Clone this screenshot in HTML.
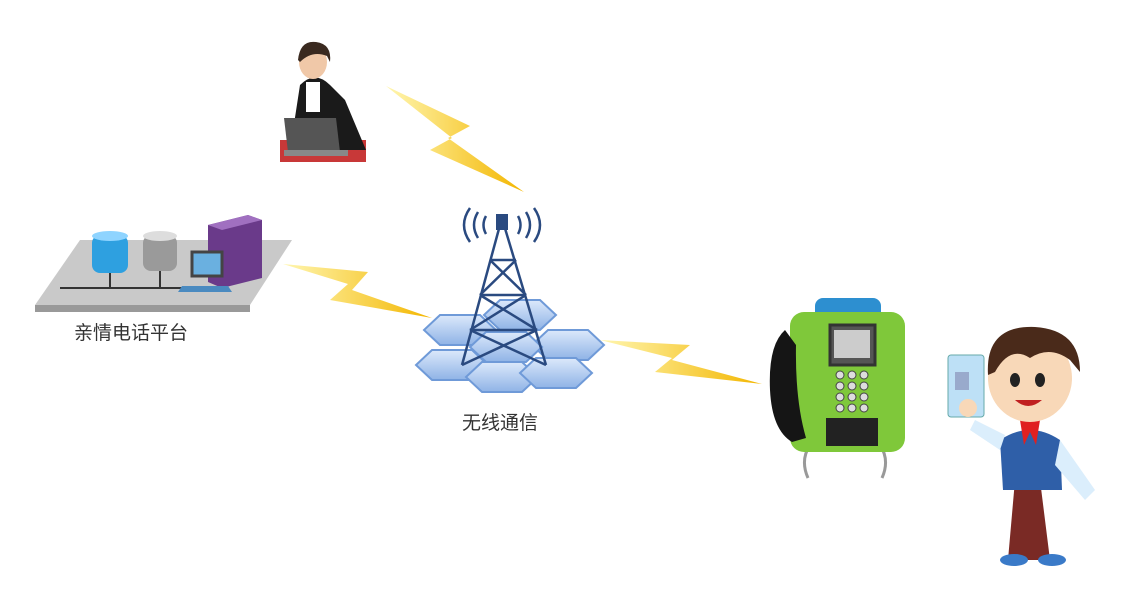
<!DOCTYPE html>
<html><head><meta charset="utf-8"><style>
body{margin:0;background:#fff;width:1146px;height:596px;overflow:hidden;font-family:"Liberation Sans","Noto Sans CJK SC",sans-serif}
.t{position:absolute;font-size:19px;color:#333}
</style></head><body>
<svg width="1146" height="596" style="position:absolute;left:0;top:0">
<defs>
<linearGradient id="ly" x1="0" x2="1"><stop offset="0" stop-color="#fff6b0"/><stop offset="1" stop-color="#f3b600"/></linearGradient>
<linearGradient id="hx" x1="0" y1="0" x2="0" y2="1"><stop offset="0" stop-color="#dce9fb"/><stop offset="1" stop-color="#8fb3e6"/></linearGradient>
</defs>
<!-- lightning bolts -->
<polygon points="386,86 470,126 448,138 524,192 430,150 452,138" fill="url(#ly)"/>
<polygon points="283,264 368,272 352,290 432,318 330,300 348,284" fill="url(#ly)"/>
<polygon points="600,340 690,345 672,360 762,384 655,372 672,358" fill="url(#ly)"/>
<!-- woman -->
<rect x="280" y="140" width="86" height="22" fill="#c83838"/>
<path d="M290 150 L300 85 Q315 70 330 85 L345 100 L366 150 Z" fill="#1a1a1a"/>
<ellipse cx="313" cy="62" rx="14" ry="17" fill="#f0c8a8"/>
<path d="M298 60 Q300 40 316 42 Q332 44 330 62 L327 56 Q312 50 300 62 Z" fill="#3a2a20"/>
<rect x="306" y="82" width="14" height="30" fill="#fff"/>
<polygon points="284,118 336,118 340,152 288,152" fill="#555"/>
<rect x="284" y="150" width="64" height="6" fill="#888"/>
<!-- server platform -->
<polygon points="80,240 292,240 250,305 35,305" fill="#c9c9c9"/>
<polygon points="35,305 250,305 250,312 35,312" fill="#999"/>
<line x1="60" y1="288" x2="200" y2="288" stroke="#333" stroke-width="2"/>
<line x1="110" y1="270" x2="110" y2="288" stroke="#333" stroke-width="2"/>
<line x1="160" y1="270" x2="160" y2="288" stroke="#333" stroke-width="2"/>
<rect x="92" y="235" width="36" height="38" rx="8" fill="#2ea0e0"/>
<ellipse cx="110" cy="236" rx="18" ry="5" fill="#8fd4ff"/>
<rect x="143" y="235" width="34" height="36" rx="8" fill="#9a9a9a"/>
<ellipse cx="160" cy="236" rx="17" ry="5" fill="#ddd"/>
<polygon points="208,225 248,215 262,220 262,278 222,288 208,282" fill="#6a3a8a"/>
<polygon points="208,225 248,215 262,220 222,230" fill="#a070c0"/>
<rect x="192" y="252" width="30" height="24" fill="#6ab0e0" stroke="#444" stroke-width="3"/>
<polygon points="182,286 228,286 232,292 178,292" fill="#4a8ac0"/>
<!-- hex tiles -->
<g fill="url(#hx)" stroke="#6f9ad8" stroke-width="2">
<polygon points="440,315 480,315 496,330 480,345 440,345 424,330"/>
<polygon points="500,300 540,300 556,315 540,330 500,330 484,315"/>
<polygon points="548,330 588,330 604,345 588,360 548,360 532,345"/>
<polygon points="432,350 472,350 488,365 472,380 432,380 416,365"/>
<polygon points="482,362 522,362 538,377 522,392 482,392 466,377"/>
<polygon points="536,358 576,358 592,373 576,388 536,388 520,373"/>
<polygon points="486,332 526,332 542,347 526,362 486,362 470,347"/>
</g>
<!-- tower -->
<g stroke="#2a4a80" stroke-width="2.5" fill="none">
<line x1="500" y1="225" x2="462" y2="365"/><line x1="504" y1="225" x2="546" y2="365"/>
<line x1="490" y1="260" x2="516" y2="260"/><line x1="480" y1="295" x2="526" y2="295"/><line x1="470" y1="330" x2="537" y2="330"/>
<line x1="490" y1="260" x2="526" y2="295"/><line x1="516" y1="260" x2="480" y2="295"/>
<line x1="480" y1="295" x2="537" y2="330"/><line x1="526" y1="295" x2="470" y2="330"/>
<line x1="470" y1="330" x2="546" y2="365"/><line x1="537" y1="330" x2="462" y2="365"/>
<path d="M478 212 Q470 225 478 238 M486 216 Q481 225 486 234 M526 212 Q534 225 526 238 M518 216 Q523 225 518 234"/>
<path d="M470 208 Q458 225 470 242 M534 208 Q546 225 534 242"/>
</g>
<rect x="496" y="214" width="12" height="16" fill="#2a4a80"/>
<!-- phone -->
<path d="M810 445 Q800 460 808 478 M880 445 Q890 460 882 478" stroke="#999" stroke-width="3" fill="none"/>
<rect x="815" y="298" width="66" height="22" rx="8" fill="#2d8fd0"/>
<rect x="790" y="312" width="115" height="140" rx="14" fill="#7fc83a"/>
<rect x="830" y="325" width="45" height="40" fill="#555" stroke="#333" stroke-width="3"/>
<rect x="834" y="330" width="36" height="28" fill="#ccc"/>
<g fill="#ddd" stroke="#444">
<circle cx="840" cy="375" r="4"/><circle cx="852" cy="375" r="4"/><circle cx="864" cy="375" r="4"/>
<circle cx="840" cy="386" r="4"/><circle cx="852" cy="386" r="4"/><circle cx="864" cy="386" r="4"/>
<circle cx="840" cy="397" r="4"/><circle cx="852" cy="397" r="4"/><circle cx="864" cy="397" r="4"/>
<circle cx="840" cy="408" r="4"/><circle cx="852" cy="408" r="4"/><circle cx="864" cy="408" r="4"/>
</g>
<rect x="826" y="418" width="52" height="28" fill="#222"/>
<path d="M785 330 Q768 345 770 390 Q772 430 792 442 L806 438 Q795 400 796 345 Z" fill="#151515"/>
<!-- boy -->
<rect x="948" y="355" width="36" height="62" rx="3" fill="#bde0f6" stroke="#6aa" />
<rect x="955" y="372" width="14" height="18" fill="#9ac"/>
<path d="M1008 560 L1015 480 L1040 480 L1050 560 Z" fill="#7a2a25"/>
<ellipse cx="1014" cy="560" rx="14" ry="6" fill="#3a7ac8"/>
<ellipse cx="1052" cy="560" rx="14" ry="6" fill="#3a7ac8"/>
<path d="M1000 440 Q1030 420 1060 440 L1062 490 L1003 490 Z" fill="#2f5fa8"/>
<path d="M975 420 L1005 435 L1000 450 L970 430 Z" fill="#dbeefc"/>
<path d="M1060 440 L1095 490 L1085 500 L1055 465 Z" fill="#dbeefc"/>
<polygon points="1020,420 1040,420 1036,445 1030,432 1024,445" fill="#e02020"/>
<ellipse cx="1030" cy="378" rx="42" ry="44" fill="#f8d8b8"/>
<path d="M988 375 Q985 325 1035 327 Q1080 330 1080 372 L1070 360 Q1050 345 1030 358 Q1010 345 995 372 Z" fill="#4a2a1a"/>
<ellipse cx="1015" cy="380" rx="5" ry="7" fill="#222"/><ellipse cx="1040" cy="380" rx="5" ry="7" fill="#222"/>
<path d="M1015 400 Q1028 412 1042 400 Z" fill="#c02020"/>
<circle cx="968" cy="408" r="9" fill="#f8d8b8"/>
</svg>
<div class="t" style="left:74px;top:318px">亲情电话平台</div>
<div class="t" style="left:462px;top:408px">无线通信</div>
</body></html>
